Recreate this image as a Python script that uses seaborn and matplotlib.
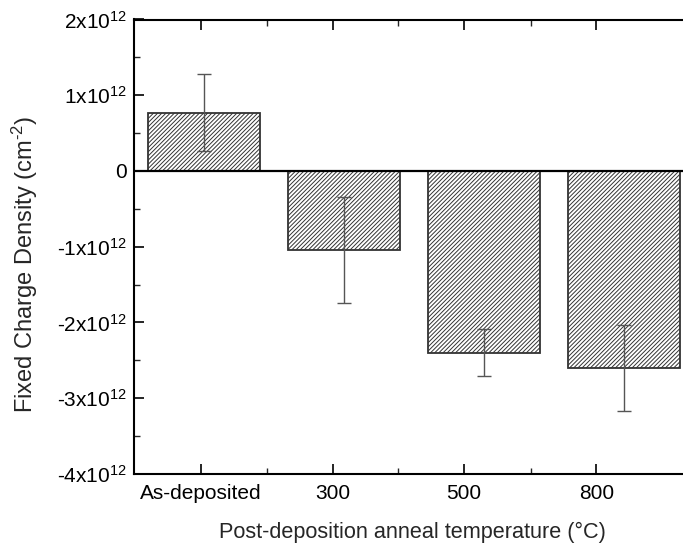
import matplotlib
matplotlib.use("Agg")
import matplotlib.pyplot as plt
import matplotlib.ticker as mticker
import seaborn as sns
import pandas as pd
import numpy as np

categories = ["As-deposited", "300", "500", "800"]
values = [0.77e12, -1.04e12, -2.40e12, -2.60e12]
errors = [0.51e12, 0.70e12, 0.31e12, 0.565e12]
ytick_values = [-4e12, -3e12, -2e12, -1e12, 0, 1e12, 2e12]

sns.set_theme(style="ticks")
plt.rcParams["font.family"] = ["Liberation Sans", "DejaVu Sans"]
plt.rcParams["mathtext.fontset"] = "custom"
plt.rcParams["mathtext.rm"] = "Liberation Sans"
plt.rcParams["mathtext.it"] = "Liberation Sans"
plt.rcParams["hatch.linewidth"] = 0.7
plt.rcParams["hatch.color"] = "black"
plt.rcParams["axes.unicode_minus"] = False

df = pd.DataFrame({"cat": categories, "val": values})

fig = plt.figure(figsize=(6.83, 5.5), dpi=100)
W, H = 683, 550
left, right, top, bottom = 134, 686, 19.5, 474
ax = fig.add_axes([left / W, 1 - bottom / H, (right - left) / W, (bottom - top) / H])

sns.barplot(data=df, x="cat", y="val", ax=ax, color="white", width=0.8,
            edgecolor="#333333", linewidth=1.3, errorbar=None)
for p in ax.patches:
    p.set_hatch("////////")
    p.set_facecolor("white")

xs = np.arange(len(categories))
ax.errorbar(xs, values, yerr=errors, fmt="none", ecolor="#555555",
            elinewidth=1.0, capsize=5, capthick=1.0, zorder=5)

ax.axhline(0, color="black", lw=1.6, zorder=6)

ax.set_xlim(-0.5, 3.44)
ax.set_ylim(-4e12, 2e12)

# x ticks (positioned as in reference)
tick_pos = [-0.025, 0.918, 1.854, 2.80]
ax.set_xticks(tick_pos)
ax.set_xticklabels(categories, fontsize=15)
ax.set_xticks([0.448, 1.386, 2.336], minor=True)

def yfmt(v, pos):
    if abs(v) < 1:
        return "0"
    m = int(round(v / 1e12))
    sign = r"\text{-}" if m < 0 else ""
    return r"$\mathregular{%s%dx10^{12}}$" % (sign, abs(m))

ax.set_yticks(ytick_values)
ax.yaxis.set_major_formatter(mticker.FuncFormatter(yfmt))
ax.yaxis.set_minor_locator(mticker.MultipleLocator(0.5e12))

ax.tick_params(axis="both", which="major", direction="in", length=7, width=1.2,
               labelsize=15, colors="black", top=True, right=False)
ax.tick_params(axis="both", which="minor", direction="in", length=4, width=1.0,
               top=True, right=False)
ax.tick_params(axis="x", pad=7)
ax.tick_params(axis="y", pad=5)

for s in ["left", "bottom", "top", "right"]:
    ax.spines[s].set_linewidth(1.5)
    ax.spines[s].set_color("black")

ax.set_xlabel("Post-deposition anneal temperature (°C)", fontsize=15.6)
ax.xaxis.set_label_coords(0.505, -0.105)
ax.set_ylabel(r"Fixed Charge Density (cm$\mathregular{^{\text{-}2}}$)", fontsize=17)
ax.yaxis.set_label_coords(-0.170, 0.462)

fig.savefig("out.png", dpi=100)
